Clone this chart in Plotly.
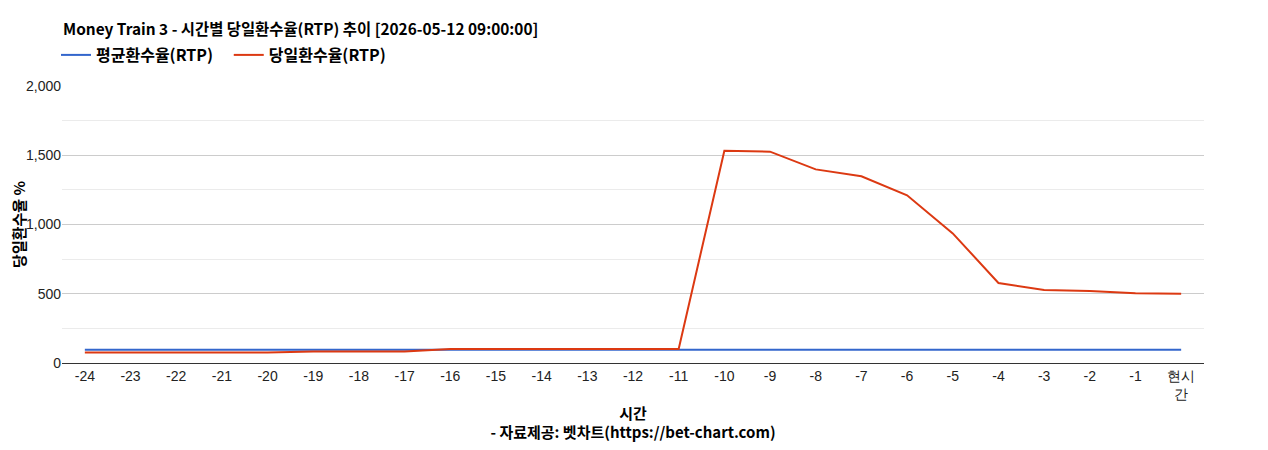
import plotly.graph_objects as go

# x categories (hours before now)
hours = [str(h) for h in range(-24, 0)] + ["현시<br>간"]

avg_rtp = [95] * 25
day_rtp = [75, 75, 75, 75, 75, 83, 83, 83, 101, 101, 101, 101, 101, 101,
           1533, 1526, 1398, 1348, 1211, 936, 578, 527, 520, 503, 500]

font_kr = "Noto Sans CJK KR"
font_tick = "Liberation Sans, Arial"

# page body has an 8px margin, so the figure is a bit smaller than the window
W, H = 1252, 434
ML, MR, MT, MB = 54, 56, 78, 79
plot_w = W - ML - MR
plot_h = H - MT - MB

fig = go.Figure()
fig.add_trace(go.Scatter(x=hours, y=avg_rtp, mode="lines",
                         name="<b>평균환수율(RTP)</b>&nbsp;&nbsp;&nbsp;",
                         line=dict(color="#3366cc", width=2)))
fig.add_trace(go.Scatter(x=hours, y=day_rtp, mode="lines",
                         name="<b>당일환수율(RTP)</b>",
                         line=dict(color="#dc3912", width=2)))

fig.update_layout(
    width=W, height=H,
    margin=dict(l=ML, r=MR, t=MT, b=MB, autoexpand=False),
    plot_bgcolor="white", paper_bgcolor="white",
    title=dict(text="<b>Money Train 3 - 시간별 당일환수율(RTP) 추이 [2026-05-12 09:00:00]</b>",
               x=55 / W, xanchor="left", y=1 - 22 / H, yanchor="middle",
               font=dict(family=font_kr, size=15.4, color="#000")),
    legend=dict(orientation="h", x=-6 / plot_w, xanchor="left", y=1 + 31 / plot_h,
                yanchor="middle",
                font=dict(family=font_kr, size=16, color="#000"),
                itemwidth=30, tracegroupgap=0),
    showlegend=True,
    hovermode="x",
)
fig.update_xaxes(
    type="category", range=[-0.5, 24.5], showgrid=False, showline=True,
    linecolor="#333", linewidth=1, automargin=False,
    ticks="", tickfont=dict(family=font_tick, size=14, color="#222"),
    title=dict(text="<b>시간</b><br><b>- 자료제공: 벳차트(https://bet-chart.com)</b>",
               font=dict(family=font_kr, size=15, color="#000"), standoff=13),
)
fig.update_yaxes(
    range=[0, 2000], tickvals=[0, 500, 1000, 1500, 2000], tickformat=",",
    gridcolor="#cccccc", zeroline=False, showline=False, automargin=False,
    tickfont=dict(family=font_tick, size=14, color="#222"),
    minor=dict(dtick=250, showgrid=True, gridcolor="#ebebeb"),
    title=dict(text="<b>당일환수율 %</b>", font=dict(family=font_kr, size=15, color="#000"),
               standoff=6),
)

fig.write_html("out.html")
